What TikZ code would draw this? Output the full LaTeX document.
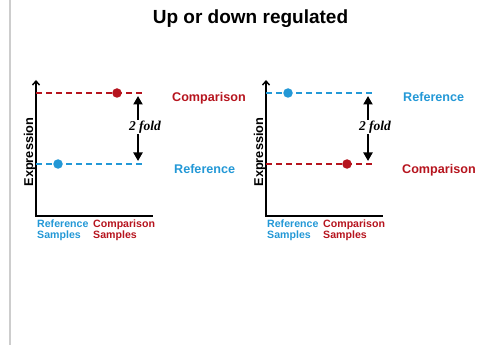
\documentclass[tikz,border=0pt]{standalone}
\usepackage{fontspec}
\setmainfont{Liberation Sans}
\newfontfamily\foldfont{Liberation Serif}
\usetikzlibrary{arrows.meta}
\definecolor{refblue}{RGB}{35,152,214}
\definecolor{cmpred}{RGB}{182,20,30}
\definecolor{edgegray}{RGB}{205,205,205}
\tikzset{
  axisline/.style  = {draw, line width=1.4pt, {Straight Barb[length=4pt,width=7pt]}-},
  levelline/.style = {line width=1.5pt, dash pattern=on 5.5pt off 4.5pt},
  reflevel/.style  = {levelline, refblue},
  cmplevel/.style  = {levelline, cmpred},
  dotnode/.style   = {shape=circle, inner sep=0pt, minimum size=9.5pt},
  refdot/.style    = {dotnode, fill=refblue},
  cmpdot/.style    = {dotnode, fill=cmpred},
  foldarrow/.style = {line width=2pt, {Triangle[length=8.5pt,width=9pt]}-{Triangle[length=8.5pt,width=9pt]}},
  foldlabel/.style = {fill=white, inner sep=1pt, font=\foldfont\bfseries\itshape\fontsize{13.5}{14}\selectfont},
  lab/.style       = {anchor=base west, inner sep=0pt, font=\bfseries\fontsize{12.6}{14}\selectfont},
  sampletext/.style = {anchor=north west, inner sep=0pt, align=left,
                    font=\bfseries\fontsize{10.6}{10.6}\selectfont},
  ylabel/.style    = {rotate=90, anchor=base, inner sep=0pt, font=\bfseries\fontsize{12.8}{14}\selectfont}
}
\begin{document}
\begin{tikzpicture}[x=1pt, y=-1pt]
  \useasboundingbox (0,0) rectangle (480,345);

  % page edge on the left
  \coordinate (edgetop) at (10,0);
  \coordinate (edgebot) at (10,345);
  \draw[edgegray, line width=1.5pt] (edgetop) -- (edgebot);

  \node (title) [anchor=base, inner sep=0pt, font=\bfseries\fontsize{19}{22}\selectfont]
    at (250.5,24) {Up or down regulated};

  % ---- left panel: comparison up ----
  \coordinate (Lo) at (36,216);
  \coordinate (Ly) at (36,80);
  \coordinate (Lx) at (153,216);
  \draw[axisline] (Ly) -- (Lo) -- (Lx);

  \coordinate (Ltopa) at (36,93);
  \coordinate (Ltopb) at (143,93);
  \coordinate (Lbota) at (36,164);
  \coordinate (Lbotb) at (143,164);
  \draw[cmplevel] (Ltopa) -- (Ltopb);
  \draw[reflevel] (Lbota) -- (Lbotb);
  \node (Lcmpdot) [cmpdot] at (117,93) {};
  \node (Lrefdot) [refdot] at (58,164) {};

  \coordinate (Lup) at (138,96);
  \coordinate (Ldown) at (138,161);
  \draw[foldarrow] (Lup) -- (Ldown);
  \node (Lfold) [foldlabel] at (145,127) {2 fold};

  \node (Lcmplab) [lab, text=cmpred] at (172,102) {Comparison};
  \node (Lreflab) [lab, text=refblue] at (174,173) {Reference};

  \node (Lylab) [ylabel] at (33,152) {Expression};
  \node (Lrefs) [sampletext, text=refblue] at (37,220) {Reference\\Samples};
  \node (Lcmps) [sampletext, text=cmpred] at (93,220) {Comparison\\Samples};

  % ---- right panel: comparison down ----
  \coordinate (Ro) at (266,216);
  \coordinate (Ry) at (266,80);
  \coordinate (Rx) at (383,216);
  \draw[axisline] (Ry) -- (Ro) -- (Rx);

  \coordinate (Rtopa) at (266,93);
  \coordinate (Rtopb) at (373,93);
  \coordinate (Rbota) at (266,164);
  \coordinate (Rbotb) at (373,164);
  \draw[reflevel] (Rtopa) -- (Rtopb);
  \draw[cmplevel] (Rbota) -- (Rbotb);
  \node (Rrefdot) [refdot] at (288,93) {};
  \node (Rcmpdot) [cmpdot] at (347,164) {};

  \coordinate (Rup) at (368,96);
  \coordinate (Rdown) at (368,161);
  \draw[foldarrow] (Rup) -- (Rdown);
  \node (Rfold) [foldlabel] at (375,127) {2 fold};

  \node (Rreflab) [lab, text=refblue] at (403,102) {Reference};
  \node (Rcmplab) [lab, text=cmpred] at (402,173) {Comparison};

  \node (Rylab) [ylabel] at (263,152) {Expression};
  \node (Rrefs) [sampletext, text=refblue] at (267,220) {Reference\\Samples};
  \node (Rcmps) [sampletext, text=cmpred] at (323,220) {Comparison\\Samples};
\end{tikzpicture}
\end{document}
